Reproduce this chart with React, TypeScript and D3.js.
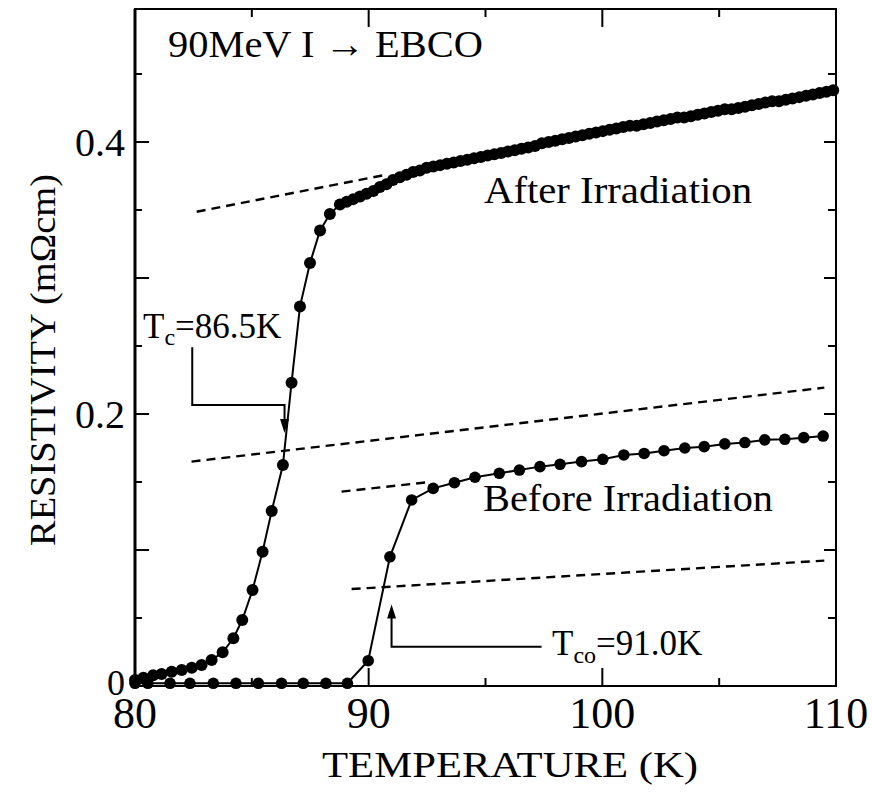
import React from "react";
import * as d3 from "d3";

const W = 872;
const H = 798;
const FONT = "'Liberation Serif', 'Times New Roman', serif";

// Plot frame in pixels
const plot = { left: 135, right: 836, top: 9, bottom: 686 };

// Axes
const xDomain = [80, 110];
const yDomain = [0, 0.4978];
const xLabelTicks = [80, 90, 100, 110];
const xMinorTicks = [85, 95, 105];
const yLabelTicks = [0, 0.2, 0.4];
const yAllTicks = [0.05, 0.1, 0.15, 0.2, 0.25, 0.3, 0.35, 0.4, 0.45];

// After irradiation: temperature (K) and resistivity (mΩcm)
const afterT = [
  80.0, 80.36, 80.78, 81.14, 81.57, 82.0, 82.43, 82.85, 83.28, 83.75, 84.21, 84.59,
  85.03, 85.46, 85.85, 86.33, 86.7, 87.06, 87.49, 87.92, 88.34,
  88.77, 89.06, 89.34, 89.63, 89.91, 90.2, 90.48, 90.76, 91.04, 91.33, 91.62, 91.9,
  92.19, 92.48, 92.77, 93.06, 93.35, 93.64, 93.93, 94.22, 94.51, 94.8, 95.09, 95.38,
  95.67, 95.96, 96.25, 96.54, 96.83, 97.12, 97.41, 97.7, 97.99, 98.28, 98.57, 98.86,
  99.15, 99.44, 99.73, 100.02, 100.31, 100.6, 100.89, 101.18, 101.47, 101.76, 102.05,
  102.34, 102.63, 102.92, 103.21, 103.5, 103.79, 104.08, 104.37, 104.66, 104.95,
  105.24, 105.53, 105.82, 106.11, 106.4, 106.69, 106.98, 107.27, 107.56, 107.85,
  108.14, 108.43, 108.72, 109.01, 109.3, 109.59, 109.88,
];
const afterRho = [
  0.0044, 0.0061, 0.0079, 0.0088, 0.0105, 0.0118, 0.0135, 0.0154, 0.0191, 0.0248, 0.0351, 0.0485,
  0.0706, 0.0988, 0.1287, 0.1625, 0.223, 0.279, 0.311, 0.335, 0.347,
  0.354, 0.356, 0.358, 0.36, 0.362, 0.364, 0.367, 0.369, 0.372, 0.374, 0.376, 0.378,
  0.379, 0.381, 0.382, 0.383, 0.384, 0.385, 0.386, 0.387, 0.388, 0.389, 0.39, 0.391,
  0.392, 0.393, 0.394, 0.395, 0.396, 0.397, 0.399, 0.4, 0.401, 0.402, 0.403, 0.404,
  0.405, 0.406, 0.407, 0.408, 0.409, 0.41, 0.411, 0.412, 0.412, 0.413, 0.414,
  0.415, 0.416, 0.417, 0.418, 0.418, 0.419, 0.42, 0.421, 0.422, 0.423,
  0.424, 0.424, 0.425, 0.426, 0.427, 0.428, 0.429, 0.43, 0.43, 0.431,
  0.432, 0.433, 0.434, 0.435, 0.436, 0.437, 0.438,
];

// Before irradiation
const beforeT = [
  80.0, 80.55, 81.5, 82.35, 83.35, 84.32, 85.28, 86.27, 87.2, 88.17, 89.09, 89.98,
  90.91, 91.84, 92.76, 93.67, 94.55, 95.59, 96.45, 97.33, 98.19, 99.11, 100.02,
  100.92, 101.79, 102.64, 103.53, 104.36, 105.24, 106.1, 106.95, 107.81, 108.62, 109.45,
];
const beforeRho = [
  0.002, 0.002, 0.002, 0.002, 0.002, 0.002, 0.002, 0.002, 0.002, 0.002, 0.002, 0.0186,
  0.095, 0.1368, 0.1453, 0.1495, 0.1535, 0.1564, 0.1588, 0.1613, 0.163, 0.165, 0.1667,
  0.1699, 0.171, 0.173, 0.175, 0.176, 0.178, 0.179, 0.181, 0.1814, 0.1826, 0.1838,
];

// Normal-state extrapolations and their half values: [T0, rho0, T1, rho1]
const afterNormal = [82.64, 0.3487, 90.77, 0.376];
const afterHalf = [82.42, 0.165, 109.5, 0.2194];
const beforeNormal = [88.84, 0.1429, 92.62, 0.15];
const beforeHalf = [89.27, 0.0713, 109.5, 0.0922];
const dashedLines = [afterNormal, afterHalf, beforeNormal, beforeHalf];

// Critical temperatures
const tcAfter = 86.4;
const tcBefore = 90.98;

export default function App() {
  const x = d3.scaleLinear().domain(xDomain).range([plot.left, plot.right]);
  const y = d3.scaleLinear().domain(yDomain).range([plot.bottom, plot.top]);

  const line = d3
    .line<[number, number]>()
    .x((d) => x(d[0]))
    .y((d) => y(d[1]));

  const afterPts: [number, number][] = afterT.map((t, i) => [t, afterRho[i]]);
  const beforePts: [number, number][] = beforeT.map((t, i) => [t, beforeRho[i]]);

  // Tc annotation (after irradiation)
  const tcTipX = x(tcAfter);
  const tcTipY = y(0.186);
  const tcElbowX = x(82.45);
  const tcElbowY = y(0.2066);
  const tcTopY = y(0.249);

  // Tco annotation (before irradiation)
  const tcoTipX = x(tcBefore);
  const tcoTipY = y(0.06);
  const tcoElbowY = y(0.0289);
  const tcoEndX = x(97.4);

  return (
    <svg
      width={W}
      height={H}
      style={{ position: "absolute", left: 0, top: 0, background: "#fff" }}
      fontFamily={FONT}
    >
      <rect x={0} y={0} width={W} height={H} fill="#fff" />

      {/* frame */}
      <rect
        x={plot.left}
        y={plot.top}
        width={plot.right - plot.left}
        height={plot.bottom - plot.top}
        fill="none"
        stroke="#000"
        strokeWidth={2}
      />
      <line x1={plot.left} x2={plot.left} y1={plot.top} y2={plot.bottom} stroke="#000" strokeWidth={3} />

      {/* y ticks, left and right */}
      {yAllTicks.map((v) => {
        const major = Math.round(v * 100) % 10 === 0;
        const len = major ? 14 : 7;
        return (
          <g key={"yt" + v}>
            <line x1={plot.left} x2={plot.left + len} y1={y(v)} y2={y(v)} stroke="#000" strokeWidth={2} />
            <line x1={plot.right} x2={plot.right - (major ? 12 : 8)} y1={y(v)} y2={y(v)} stroke="#000" strokeWidth={2} />
          </g>
        );
      })}

      {/* x ticks, bottom and top */}
      {xLabelTicks.slice(1, -1).map((v) => (
        <g key={"xt" + v}>
          <line x1={x(v)} x2={x(v)} y1={plot.bottom} y2={plot.bottom - 18} stroke="#000" strokeWidth={2} />
          <line x1={x(v)} x2={x(v)} y1={plot.top} y2={plot.top + 18} stroke="#000" strokeWidth={2} />
        </g>
      ))}
      {xMinorTicks.map((v) => (
        <g key={"xm" + v}>
          <line x1={x(v)} x2={x(v)} y1={plot.bottom} y2={plot.bottom - 8} stroke="#000" strokeWidth={2} />
          <line x1={x(v)} x2={x(v)} y1={plot.top} y2={plot.top + 8} stroke="#000" strokeWidth={2} />
        </g>
      ))}

      {/* tick labels */}
      {yLabelTicks.map((v) => (
        <text
          key={"yl" + v}
          x={plot.left - 10}
          y={v === 0 ? y(v) + 9 : y(v) + 14}
          fontSize={v === 0 ? 36 : 40}
          textAnchor="end"
        >
          {v === 0 ? "0" : v.toFixed(1)}
        </text>
      ))}
      {xLabelTicks.map((v) => (
        <text key={"xl" + v} x={x(v)} y={728} fontSize={44} textAnchor="middle">
          {v}
        </text>
      ))}

      {/* axis titles */}
      <text x={322} y={777} fontSize={35} textLength={376} lengthAdjust="spacingAndGlyphs">
        TEMPERATURE (K)
      </text>
      <text
        transform="translate(55,360) rotate(-90)"
        fontSize={36}
        textAnchor="middle"
        textLength={372}
        lengthAdjust="spacingAndGlyphs"
      >
        RESISTIVITY (mΩcm)
      </text>

      {/* dashed extrapolations */}
      {dashedLines.map((d, i) => (
        <line
          key={"dl" + i}
          x1={x(d[0])}
          y1={y(d[1])}
          x2={x(d[2])}
          y2={y(d[3])}
          stroke="#000"
          strokeWidth={2.4}
          strokeDasharray="9 6"
        />
      ))}

      {/* data */}
      <path d={line(beforePts) || ""} fill="none" stroke="#000" strokeWidth={2} />
      <path d={line(afterPts) || ""} fill="none" stroke="#000" strokeWidth={2} />
      {beforePts.map((p, i) => (
        <circle key={"b" + i} cx={x(p[0])} cy={y(p[1])} r={5.8} fill="#000" />
      ))}
      {afterPts.map((p, i) => (
        <circle key={"a" + i} cx={x(p[0])} cy={y(p[1])} r={6} fill="#000" />
      ))}

      {/* Tc annotation */}
      <path
        d={`M${tcElbowX},${tcTopY} L${tcElbowX},${tcElbowY} L${tcTipX},${tcElbowY} L${tcTipX},${tcTipY - 12}`}
        fill="none"
        stroke="#000"
        strokeWidth={2}
      />
      <path
        d={`M${tcTipX},${tcTipY} L${tcTipX - 4.5},${tcTipY - 14} L${tcTipX + 4.5},${tcTipY - 14} Z`}
        fill="#000"
      />
      <text x={143} y={338} fontSize={35}>
        T<tspan fontSize={24} dy={7}>c</tspan>
        <tspan dy={-7}>=86.5K</tspan>
      </text>

      {/* Tco annotation */}
      <path
        d={`M${tcoTipX},${tcoTipY + 12} L${tcoTipX},${tcoElbowY} L${tcoEndX},${tcoElbowY}`}
        fill="none"
        stroke="#000"
        strokeWidth={2}
      />
      <path
        d={`M${tcoTipX},${tcoTipY} L${tcoTipX - 4.5},${tcoTipY + 14} L${tcoTipX + 4.5},${tcoTipY + 14} Z`}
        fill="#000"
      />
      <text x={552} y={655} fontSize={35}>
        T<tspan fontSize={24} dy={8}>co</tspan>
        <tspan dy={-8}>=91.0K</tspan>
      </text>

      {/* series labels and title */}
      <text x={484} y={203} fontSize={38} textLength={268} lengthAdjust="spacingAndGlyphs">
        After Irradiation
      </text>
      <text x={483} y={511} fontSize={38} textLength={290} lengthAdjust="spacingAndGlyphs">
        Before Irradiation
      </text>
      <text x={168} y={57} fontSize={38} textLength={315} lengthAdjust="spacingAndGlyphs">
        90MeV I → EBCO
      </text>
    </svg>
  );
}
